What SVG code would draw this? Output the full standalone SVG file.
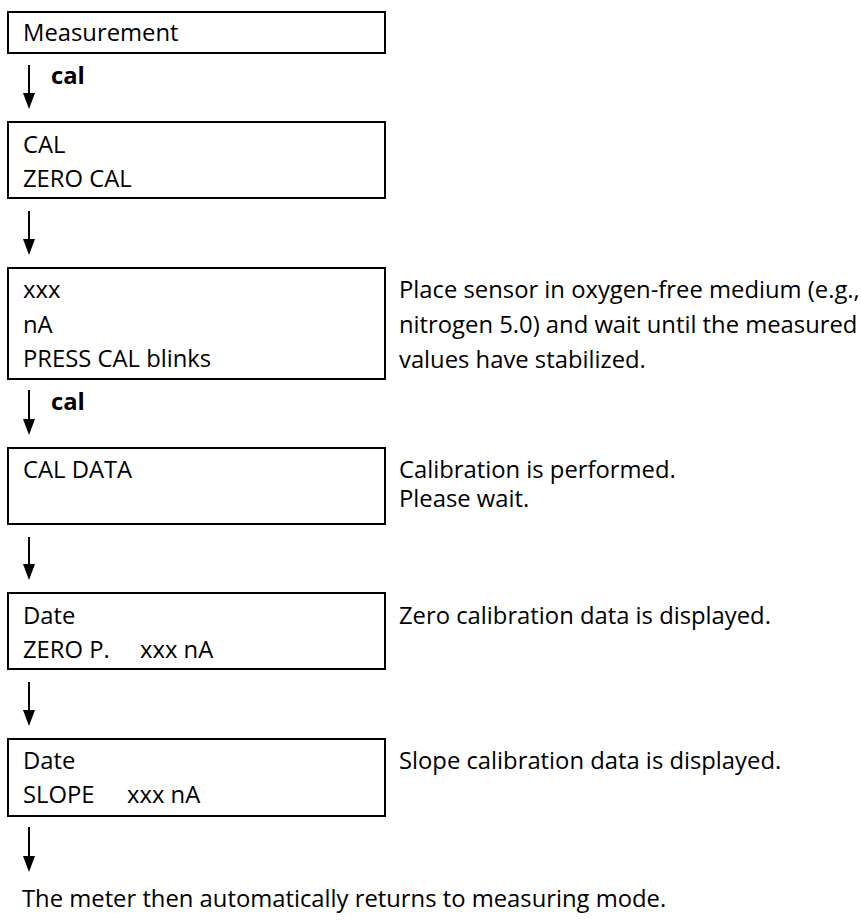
<svg xmlns="http://www.w3.org/2000/svg" width="861" height="920" viewBox="0 0 861 920">
  <style>
    .box { fill: #ffffff; stroke: #000000; stroke-width: 2; }
    .t { font-family: "Open Sans", "Liberation Sans", sans-serif; font-size: 23.8px; fill: #000000; }
    .b { font-family: "Open Sans", "Liberation Sans", sans-serif; font-size: 23.8px; font-weight: bold; fill: #000000; }
    .conn { stroke: #000000; stroke-width: 2; fill: none; marker-end: url(#arr); }
  </style>
  <defs>
    <marker id="arr" viewBox="0 0 16 12" refX="8" refY="6" markerWidth="16" markerHeight="12" markerUnits="userSpaceOnUse" orient="auto">
      <path d="M0,0 L16,6 L0,12 z" fill="#000000"/>
    </marker>
  </defs>
  <rect width="861" height="920" fill="#ffffff"/>

  <g id="connectors">
    <line class="conn" x1="29" y1="65" x2="29" y2="101"/>
    <line class="conn" x1="29" y1="211" x2="29" y2="247"/>
    <line class="conn" x1="29" y1="390" x2="29" y2="427"/>
    <line class="conn" x1="29" y1="537" x2="29" y2="572"/>
    <line class="conn" x1="29" y1="682" x2="29" y2="718"/>
    <line class="conn" x1="29" y1="827" x2="29" y2="864"/>
    <text class="b" x="51" y="84">cal</text>
    <text class="b" x="51" y="410">cal</text>
  </g>

  <g id="measurement">
    <rect class="box" x="8" y="12" width="377" height="41"/>
    <text class="t" x="23" y="41">Measurement</text>
  </g>

  <g id="cal-zero">
    <rect class="box" x="8" y="122" width="377" height="76"/>
    <text class="t" x="23" y="153">CAL</text>
    <text class="t" x="23" y="187">ZERO CAL</text>
  </g>

  <g id="press-cal">
    <rect class="box" x="8" y="268" width="377" height="111"/>
    <text class="t" x="23" y="298">xxx</text>
    <text class="t" x="23" y="333">nA</text>
    <text class="t" x="23" y="367">PRESS CAL blinks</text>
  </g>
  <g id="note-place">
    <text class="t" x="399" y="298">Place sensor in oxygen-free medium (e.g.,</text>
    <text class="t" x="399" y="333">nitrogen 5.0) and wait until the measured</text>
    <text class="t" x="399" y="368">values have stabilized.</text>
  </g>

  <g id="cal-data">
    <rect class="box" x="8" y="448" width="377" height="76"/>
    <text class="t" x="23" y="478">CAL DATA</text>
  </g>
  <g id="note-cal">
    <text class="t" x="399" y="478">Calibration is performed.</text>
    <text class="t" x="399" y="507">Please wait.</text>
  </g>

  <g id="zero-point">
    <rect class="box" x="8" y="593" width="377" height="76"/>
    <text class="t" x="23" y="624">Date</text>
    <text class="t" x="23" y="658">ZERO P.</text>
    <text class="t" x="140" y="658">xxx nA</text>
  </g>
  <g id="note-zero">
    <text class="t" x="399" y="624">Zero calibration data is displayed.</text>
  </g>

  <g id="slope">
    <rect class="box" x="8" y="739" width="377" height="77"/>
    <text class="t" x="23" y="769">Date</text>
    <text class="t" x="23" y="803">SLOPE</text>
    <text class="t" x="127" y="803">xxx nA</text>
  </g>
  <g id="note-slope">
    <text class="t" x="399" y="769">Slope calibration data is displayed.</text>
  </g>

  <g id="final">
    <text class="t" x="22" y="907">The meter then automatically returns to measuring mode.</text>
  </g>
</svg>
